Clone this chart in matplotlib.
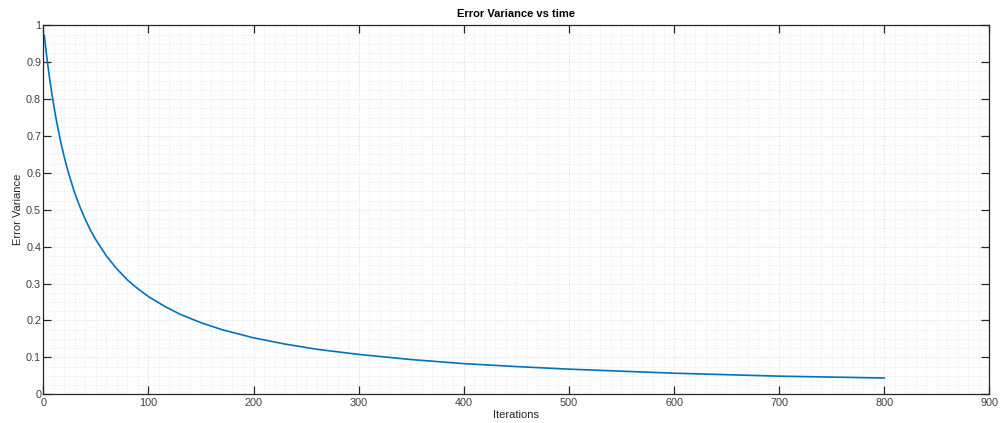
import matplotlib
matplotlib.use("Agg")
import matplotlib.pyplot as plt
from matplotlib.ticker import MultipleLocator

# Error variance recorded at selected iterations
iterations = [1, 2, 3, 4, 6, 8, 10, 12, 14, 17, 20, 23, 26, 30, 35, 40, 45,
              50, 60, 70, 80, 90, 100, 115, 130, 150, 170, 200, 230, 260,
              300, 350, 400, 450, 500, 600, 700, 800]
error_variance = [0.973, 0.947, 0.923, 0.900, 0.857, 0.818, 0.783, 0.750,
                  0.720, 0.679, 0.643, 0.610, 0.581, 0.545, 0.507, 0.474,
                  0.444, 0.419, 0.375, 0.340, 0.310, 0.286, 0.265, 0.239,
                  0.217, 0.194, 0.175, 0.153, 0.136, 0.122, 0.108, 0.094,
                  0.083, 0.075, 0.068, 0.057, 0.049, 0.044]

x_ticks = [0, 100, 200, 300, 400, 500, 600, 700, 800, 900]
y_ticks = [0, 0.1, 0.2, 0.3, 0.4, 0.5, 0.6, 0.7, 0.8, 0.9, 1]
y_tick_labels = ["0", "0.1", "0.2", "0.3", "0.4", "0.5", "0.6", "0.7", "0.8", "0.9", "1"]

plt.rcParams["font.family"] = ["Liberation Sans", "DejaVu Sans"]

fig = plt.figure(figsize=(10.06, 4.23), dpi=100)
ax = fig.add_axes([0.043, 0.068, 0.9405, 0.872])

ax.plot(iterations, error_variance, color="#0072BD", linewidth=1.2)

ax.set_xlim(0, 900)
ax.set_ylim(0, 1)
ax.set_xticks(x_ticks)
ax.set_xticklabels([str(t) for t in x_ticks])
ax.set_yticks(y_ticks)
ax.set_yticklabels(y_tick_labels)
ax.xaxis.set_minor_locator(MultipleLocator(10))
ax.yaxis.set_minor_locator(MultipleLocator(0.025))

ax.grid(which="major", color="#dcdcdc", linestyle=":", linewidth=0.7)
ax.grid(which="minor", color="#e4e4e4", linestyle=":", linewidth=0.6)
ax.set_axisbelow(True)

dark = "#262626"
for s in ax.spines.values():
    s.set_color(dark)
    s.set_linewidth(0.9)
ax.tick_params(which="major", direction="in", length=6, width=0.9,
               top=True, right=True, colors=dark, labelsize=7.8,
               labelcolor="#404040")
ax.tick_params(axis="y", which="major", pad=1.5)
ax.tick_params(axis="x", which="major", pad=3)
ax.tick_params(which="minor", length=0, top=True, right=True)

ax.set_xlabel("Iterations", fontsize=8, color="#262626")
ax.set_ylabel("Error Variance", fontsize=8, color="#262626")
ax.xaxis.set_label_coords(0.5, -0.044)
ax.yaxis.set_label_coords(-0.0215, 0.5)
ax.set_title("Error Variance vs time", fontsize=8, fontweight="bold",
             color="black", pad=6)

fig.savefig("out.png", dpi=100)
